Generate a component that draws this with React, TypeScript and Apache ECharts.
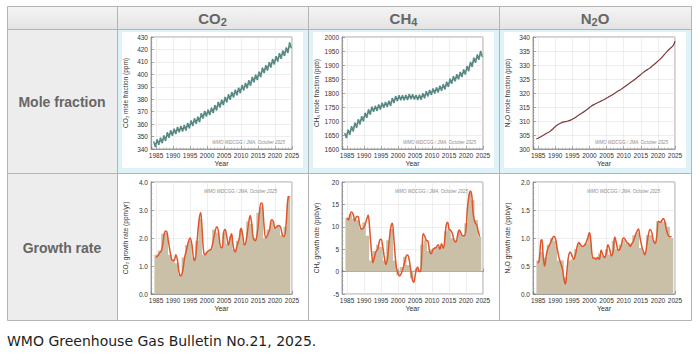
import React, { useEffect, useRef } from "react";
import * as echarts from "echarts";

// ---------- data ----------
const years = [1984, 1985, 1986, 1987, 1988, 1989, 1990, 1991, 1992, 1993, 1994, 1995, 1996, 1997, 1998, 1999, 2000, 2001, 2002, 2003, 2004, 2005, 2006, 2007, 2008, 2009, 2010, 2011, 2012, 2013, 2014, 2015, 2016, 2017, 2018, 2019, 2020, 2021, 2022, 2023, 2024];
const growthYears = [1985, 1986, 1987, 1988, 1989, 1990, 1991, 1992, 1993, 1994, 1995, 1996, 1997, 1998, 1999, 2000, 2001, 2002, 2003, 2004, 2005, 2006, 2007, 2008, 2009, 2010, 2011, 2012, 2013, 2014, 2015, 2016, 2017, 2018, 2019, 2020, 2021, 2022, 2023, 2024];

const gasHeaders = [["CO", "2", ""], ["CH", "4", ""], ["N", "2", "O"]];
const rowLabels = ["Mole fraction", "Growth rate"];
const caption = "WMO Greenhouse Gas Bulletin No.21, 2025.";
const watermark = "WMO WDCGG / JMA, October 2025";

// CO2 mole fraction (ppm): annual trend, seasonal high and low
const co2Trend = [343.8, 345.5, 346.8, 348.6, 351.2, 352.8, 354.1, 355.5, 356.3, 357.0, 358.7, 360.7, 362.4, 363.7, 366.6, 368.3, 369.4, 371.0, 373.1, 375.6, 377.4, 379.6, 381.7, 383.6, 385.4, 387.0, 389.2, 390.9, 393.0, 395.7, 397.5, 399.9, 403.1, 405.2, 407.6, 410.1, 412.4, 414.7, 416.9, 419.3, 423.1];
const co2High = [346.0, 347.7, 349.0, 350.8, 353.4, 355.0, 356.3, 357.7, 358.5, 359.2, 360.9, 362.9, 364.6, 365.9, 368.8, 370.5, 371.6, 373.2, 375.3, 377.8, 379.6, 381.8, 383.9, 385.8, 387.6, 389.2, 391.4, 393.1, 395.2, 397.9, 399.7, 402.1, 405.3, 407.4, 409.8, 412.3, 414.6, 416.9, 419.1, 421.5, 425.6];
const co2Low = [341.6, 343.4, 344.7, 346.5, 349.0, 350.7, 352.0, 353.4, 354.1, 354.9, 356.6, 358.5, 360.3, 361.6, 364.5, 366.2, 367.3, 368.9, 371.0, 373.4, 375.3, 377.5, 379.6, 381.5, 383.2, 384.9, 387.1, 388.8, 390.8, 393.6, 395.4, 397.8, 401.0, 403.0, 405.5, 408.0, 410.3, 412.5, 414.8, 417.2, 421.0];

// CH4 mole fraction (ppb)
const ch4Trend = [1648, 1660, 1672, 1685, 1697, 1708, 1720, 1732, 1742, 1745, 1750, 1756, 1759, 1763, 1773, 1780, 1783, 1783, 1784, 1787, 1786, 1784, 1785, 1790, 1797, 1802, 1807, 1811, 1817, 1822, 1831, 1842, 1851, 1858, 1866, 1875, 1887, 1902, 1917, 1928, 1938];
const ch4High = [1657, 1669, 1681, 1694, 1706, 1717, 1729, 1741, 1751, 1754, 1759, 1765, 1768, 1772, 1782, 1789, 1792, 1792, 1793, 1796, 1795, 1793, 1794, 1799, 1806, 1811, 1816, 1820, 1826, 1831, 1840, 1851, 1860, 1867, 1875, 1884, 1896, 1911, 1926, 1937, 1950];
const ch4Low = [1639, 1651, 1663, 1676, 1688, 1699, 1711, 1723, 1733, 1736, 1741, 1747, 1750, 1754, 1764, 1771, 1774, 1774, 1775, 1778, 1777, 1775, 1776, 1781, 1788, 1793, 1798, 1802, 1808, 1813, 1822, 1833, 1842, 1849, 1857, 1866, 1878, 1893, 1908, 1919, 1929];

// N2O mole fraction (ppb)
const n2oAnnual = [303.6, 304.2, 304.9, 305.6, 306.3, 307.4, 308.5, 309.2, 309.7, 309.9, 310.3, 311.0, 311.8, 312.6, 313.4, 314.3, 315.3, 316.0, 316.6, 317.2, 317.8, 318.5, 319.2, 320.0, 320.8, 321.5, 322.4, 323.3, 324.2, 325.1, 326.1, 327.1, 328.0, 328.8, 329.8, 330.8, 331.9, 333.2, 334.6, 335.8, 337.0];
const n2oLatest = [2025.0, 338.5];

// Annual growth rates (bars)
const co2GrowthAnnual = [1.4, 1.55, 2.15, 2.2, 1.4, 1.25, 1.1, 0.7, 1.3, 1.75, 1.9, 1.3, 1.9, 2.7, 1.4, 1.5, 1.6, 2.3, 2.2, 1.7, 2.2, 1.8, 2.05, 1.6, 1.9, 2.3, 1.8, 2.6, 2.5, 2.0, 2.9, 3.1, 2.0, 2.3, 2.6, 2.35, 2.45, 2.1, 2.4, 3.5];
const ch4GrowthAnnual = [12.0, 12.8, 11.8, 11.5, 9.6, 11.0, 8.0, 2.5, 4.6, 6.0, 5.5, 2.5, 7.0, 9.5, 2.5, -0.8, 1.0, 3.3, 1.5, -1.5, 0.3, 0.5, 6.0, 7.0, 4.6, 5.0, 5.5, 5.5, 5.6, 9.0, 9.5, 7.5, 7.0, 9.0, 8.0, 10.8, 17.5, 16.0, 11.5, 7.8];
const n2oGrowthAnnual = [0.6, 0.75, 0.65, 0.88, 1.0, 0.95, 0.6, 0.6, 0.3, 0.6, 0.62, 0.8, 0.9, 0.85, 0.9, 1.05, 0.65, 0.65, 0.72, 0.68, 0.8, 0.7, 0.95, 0.8, 0.88, 0.97, 0.9, 0.9, 1.05, 1.1, 0.82, 0.75, 1.05, 1.05, 0.95, 1.3, 1.3, 1.28, 1.2, 1.0];

// Smoothed growth-rate curves [year, value]
const co2GrowthCurve = [[1985.0, 1.3], [1986.0, 1.45], [1986.7, 1.6], [1987.5, 2.2], [1988.0, 2.25], [1988.6, 1.9], [1989.3, 1.4], [1989.8, 1.2], [1990.3, 1.2], [1990.8, 1.4], [1991.3, 1.2], [1991.8, 0.75], [1992.3, 0.65], [1992.8, 0.8], [1993.4, 1.3], [1994.0, 1.6], [1994.6, 1.9], [1995.0, 2.0], [1995.5, 1.8], [1996.0, 1.3], [1996.4, 1.2], [1997.0, 1.8], [1997.6, 2.6], [1998.1, 2.9], [1998.5, 2.4], [1999.0, 1.5], [1999.5, 1.4], [2000.0, 1.5], [2000.5, 1.55], [2001.2, 1.6], [2001.8, 1.9], [2002.5, 2.3], [2002.9, 2.4], [2003.4, 2.2], [2003.9, 1.7], [2004.4, 1.65], [2004.9, 2.2], [2005.3, 2.3], [2005.8, 2.05], [2006.3, 1.75], [2006.8, 2.0], [2007.2, 2.15], [2007.7, 1.7], [2008.3, 1.5], [2008.8, 1.7], [2009.5, 2.0], [2010.0, 2.35], [2010.5, 2.1], [2011.0, 1.75], [2011.5, 1.9], [2012.2, 2.5], [2012.7, 2.8], [2013.1, 2.55], [2013.6, 2.0], [2014.2, 1.9], [2014.8, 2.2], [2015.4, 2.9], [2015.9, 3.25], [2016.3, 3.2], [2016.8, 2.4], [2017.3, 2.0], [2017.8, 2.1], [2018.4, 2.3], [2019.0, 2.65], [2019.5, 2.6], [2020.0, 2.35], [2020.5, 2.4], [2021.0, 2.45], [2021.6, 2.4], [2022.2, 2.1], [2022.7, 2.05], [2023.2, 2.4], [2023.7, 3.3], [2024.1, 3.5]];
const ch4GrowthCurve = [[1985.0, 12.0], [1985.4, 11.5], [1985.9, 12.8], [1986.3, 13.3], [1986.8, 12.8], [1987.3, 11.3], [1987.8, 12.3], [1988.2, 12.3], [1988.7, 10.5], [1989.2, 9.5], [1989.7, 9.6], [1990.2, 10.3], [1990.7, 11.5], [1991.2, 12.6], [1991.5, 11.0], [1991.9, 7.0], [1992.3, 3.5], [1992.6, 2.0], [1993.0, 3.0], [1993.5, 4.5], [1994.0, 5.0], [1994.6, 7.0], [1995.0, 7.2], [1995.5, 5.5], [1996.0, 3.0], [1996.4, 1.6], [1996.9, 3.0], [1997.4, 7.0], [1997.9, 10.0], [1998.3, 10.8], [1998.7, 8.0], [1999.1, 4.0], [1999.5, 1.0], [2000.0, -0.5], [2000.4, -1.0], [2000.9, -0.5], [2001.4, 0.5], [2001.9, 2.0], [2002.4, 3.5], [2002.8, 3.7], [2003.3, 2.5], [2003.8, 0.0], [2004.3, -2.0], [2004.6, -2.4], [2005.0, -1.0], [2005.4, 0.5], [2005.8, 1.0], [2006.2, 0.0], [2006.6, 0.0], [2007.0, 4.0], [2007.4, 8.5], [2007.8, 8.0], [2008.3, 7.0], [2008.8, 6.8], [2009.3, 4.5], [2009.8, 4.0], [2010.3, 5.0], [2010.8, 5.2], [2011.3, 5.5], [2011.8, 6.0], [2012.3, 5.0], [2012.8, 6.2], [2013.3, 5.2], [2013.8, 7.5], [2014.2, 10.5], [2014.6, 11.0], [2015.0, 9.5], [2015.5, 9.2], [2016.0, 8.5], [2016.5, 7.0], [2017.0, 6.6], [2017.5, 8.0], [2018.0, 9.3], [2018.5, 8.7], [2019.0, 8.0], [2019.5, 8.0], [2020.0, 9.5], [2020.4, 14.0], [2020.9, 17.0], [2021.3, 18.0], [2021.7, 17.0], [2022.1, 13.0], [2022.6, 11.0], [2023.1, 10.5], [2023.6, 9.0], [2024.0, 7.8]];
const n2oGrowthCurve = [[1984.9, 0.55], [1985.3, 0.6], [1985.8, 0.95], [1986.1, 0.97], [1986.5, 0.65], [1986.9, 0.5], [1987.4, 0.7], [1987.9, 0.82], [1988.5, 0.9], [1989.0, 0.97], [1989.6, 1.03], [1990.1, 0.98], [1990.6, 0.8], [1991.1, 0.65], [1991.6, 0.55], [1992.1, 0.45], [1992.6, 0.25], [1993.0, 0.18], [1993.4, 0.4], [1993.9, 0.68], [1994.4, 0.75], [1994.9, 0.68], [1995.4, 0.62], [1995.9, 0.7], [1996.4, 0.85], [1996.9, 0.92], [1997.4, 0.88], [1997.9, 0.85], [1998.4, 0.86], [1998.9, 0.9], [1999.5, 1.0], [2000.0, 1.1], [2000.4, 0.95], [2000.9, 0.65], [2001.4, 0.64], [2001.9, 0.62], [2002.4, 0.65], [2002.9, 0.62], [2003.4, 0.78], [2003.9, 0.7], [2004.4, 0.65], [2004.9, 0.72], [2005.4, 0.88], [2005.9, 0.8], [2006.4, 0.68], [2006.9, 0.75], [2007.4, 1.02], [2007.9, 0.9], [2008.4, 0.78], [2008.9, 0.8], [2009.4, 0.9], [2009.9, 1.0], [2010.4, 0.98], [2010.9, 0.92], [2011.4, 0.9], [2011.9, 0.85], [2012.4, 0.9], [2012.9, 0.95], [2013.4, 1.05], [2013.9, 1.12], [2014.3, 1.16], [2014.8, 1.0], [2015.3, 0.85], [2015.8, 0.75], [2016.2, 0.7], [2016.7, 0.85], [2017.2, 1.05], [2017.7, 1.15], [2018.2, 1.1], [2018.7, 0.95], [2019.2, 0.9], [2019.7, 1.05], [2020.2, 1.3], [2020.7, 1.28], [2021.2, 1.32], [2021.6, 1.35], [2022.0, 1.3], [2022.5, 1.15], [2023.0, 1.05], [2023.5, 1.02], [2024.0, 1.03]];

// ---------- layout ----------
const COLS = [7, 117, 308, 499, 691];
const ROWS = [6, 29, 173, 320];
const X_MIN = 1983.5;
const X_MAX = 2025;

const FONT = "Liberation Sans, Arial, sans-serif";

type Spec = { c: number; r: number; yMin: number; yMax: number; yInt: number; name: string; dec: number };
const specs: Spec[] = [
  { c: 1, r: 0, yMin: 340, yMax: 430, yInt: 10, name: "CO₂ mole fraction (ppm)", dec: 0 },
  { c: 2, r: 0, yMin: 1600, yMax: 2000, yInt: 50, name: "CH₄ mole fraction (ppb)", dec: 0 },
  { c: 3, r: 0, yMin: 300, yMax: 340, yInt: 5, name: "N₂O mole fraction (ppb)", dec: 0 },
  { c: 1, r: 1, yMin: 0, yMax: 4, yInt: 1, name: "CO₂ growth rate (ppm/yr)", dec: 1 },
  { c: 2, r: 1, yMin: -5, yMax: 20, yInt: 5, name: "CH₄ growth rate (ppb/yr)", dec: 0 },
  { c: 3, r: 1, yMin: 0, yMax: 2, yInt: 0.5, name: "N₂O growth rate (ppb/yr)", dec: 1 },
];

function gridRect(s: Spec) {
  const left = COLS[s.c] + 34;
  const width = COLS[s.c + 1] - COLS[s.c] - 50;
  const top = s.r === 0 ? 37 : 182;
  const height = 112;
  return { left, width, top, height };
}

function zigzag(hi: number[], lo: number[]) {
  const out: number[][] = [];
  years.forEach((y, i) => {
    out.push([y + 0.3, hi[i]]);
    out.push([y + 0.8, lo[i]]);
  });
  return out;
}

function steps(vals: number[]) {
  const out: number[][] = growthYears.map((y, i) => [y - 0.5, vals[i]]);
  out.push([growthYears[growthYears.length - 1] + 0.5, vals[vals.length - 1]]);
  return out;
}

function buildOption() {
  const grid: any[] = [];
  const xAxis: any[] = [];
  const yAxis: any[] = [];
  const series: any[] = [];
  const graphic: any[] = [];

  // table backgrounds
  const tableW = COLS[4] - COLS[0];
  graphic.push({
    type: "rect", z: -20, silent: true,
    shape: { x: COLS[0], y: ROWS[0], width: tableW, height: ROWS[1] - ROWS[0] },
    style: { fill: new echarts.graphic.LinearGradient(0, 0, 0, 1, [{ offset: 0, color: "#f5f5f5" }, { offset: 1, color: "#e4e4e4" }]) },
  });
  graphic.push({
    type: "rect", z: -20, silent: true,
    shape: { x: COLS[0], y: ROWS[1], width: COLS[1] - COLS[0], height: ROWS[3] - ROWS[1] },
    style: { fill: "#ededed" },
  });
  for (let c = 1; c <= 3; c++) {
    const x0 = COLS[c];
    const w = COLS[c + 1] - COLS[c];
    graphic.push({
      type: "rect", z: -20, silent: true,
      shape: { x: x0, y: ROWS[1], width: w, height: ROWS[2] - ROWS[1] },
      style: { fill: "#dff2f8" },
    });
    graphic.push({
      type: "rect", z: -19, silent: true,
      shape: { x: x0 + 5, y: ROWS[1] + 3, width: w - 10, height: ROWS[2] - ROWS[1] - 8 },
      style: { fill: "#ffffff" },
    });
    graphic.push({
      type: "rect", z: -20, silent: true,
      shape: { x: x0, y: ROWS[2], width: w, height: ROWS[3] - ROWS[2] },
      style: { fill: "#ffffff" },
    });
  }
  // borders
  const bc = "#b4b4b4";
  graphic.push({
    type: "rect", z: -5, silent: true,
    shape: { x: COLS[0] + 0.5, y: ROWS[0] + 0.5, width: tableW, height: ROWS[3] - ROWS[0] },
    style: { fill: "none", stroke: bc, lineWidth: 1 },
  });
  for (let c = 1; c <= 3; c++) {
    graphic.push({
      type: "line", z: -5, silent: true,
      shape: { x1: COLS[c] + 0.5, y1: ROWS[0], x2: COLS[c] + 0.5, y2: ROWS[3] },
      style: { stroke: bc, lineWidth: 1 },
    });
  }
  for (let r = 1; r <= 2; r++) {
    graphic.push({
      type: "line", z: -5, silent: true,
      shape: { x1: COLS[0], y1: ROWS[r] + 0.5, x2: COLS[4], y2: ROWS[r] + 0.5 },
      style: { stroke: bc, lineWidth: 1 },
    });
  }
  // header texts
  gasHeaders.forEach((h, i) => {
    const cx = (COLS[i + 1] + COLS[i + 2]) / 2;
    graphic.push({
      type: "text", z: 50, silent: true,
      x: cx, y: (ROWS[0] + ROWS[1]) / 2 + 1,
      style: {
        text: `{a|${h[0]}}{b|${h[1]}}` + (h[2] ? `{a|${h[2]}}` : ""),
        align: "center", verticalAlign: "middle",
        rich: {
          a: { fontFamily: FONT, fontWeight: "bold", fontSize: 15, fill: "#666", lineHeight: 18 },
          b: { fontFamily: FONT, fontWeight: "bold", fontSize: 11, fill: "#666", lineHeight: 18, verticalAlign: "bottom" },
        },
      },
    });
  });
  rowLabels.forEach((t, r) => {
    graphic.push({
      type: "text", z: 50, silent: true,
      x: (COLS[0] + COLS[1]) / 2, y: (ROWS[r + 1] + ROWS[r + 2]) / 2 + 1,
      style: { text: t, align: "center", verticalAlign: "middle", fontFamily: FONT, fontWeight: "bold", fontSize: 14, fill: "#666" },
    });
  });
  graphic.push({
    type: "text", z: 50, silent: true,
    x: COLS[0], y: 341,
    style: { text: caption, align: "left", verticalAlign: "middle", fontFamily: "DejaVu Sans", fontSize: 14, fill: "#1e1e1e" },
  });

  specs.forEach((s, gi) => {
    const g = gridRect(s);
    grid.push({ ...g, show: true, borderColor: "#8a8a8a", borderWidth: 0.8, backgroundColor: "transparent" });
    xAxis.push({
      type: "value", gridIndex: gi, min: X_MIN, max: X_MAX, splitNumber: 8,
      axisLine: { show: true, lineStyle: { color: "#8a8a8a", width: 0.8 } },
      axisTick: { show: true, inside: true, length: 3, lineStyle: { color: "#777", width: 0.6 } },
      minorTick: { show: true, splitNumber: 5, length: 1.5, lineStyle: { color: "#999", width: 0.5 } },
      axisLabel: { fontSize: 6.5, color: "#333", margin: 3, showMinLabel: false, fontFamily: FONT, formatter: (v: number) => String(Math.round(v)) },
      splitLine: { show: true, lineStyle: { color: "#e3e3e3", width: 0.6 } },
      name: "Year", nameLocation: "middle", nameGap: 11,
      nameTextStyle: { fontSize: 7, color: "#333", fontFamily: FONT },
    });
    yAxis.push({
      type: "value", gridIndex: gi, min: s.yMin, max: s.yMax, interval: s.yInt,
      axisLine: { show: true, lineStyle: { color: "#8a8a8a", width: 0.8 } },
      axisTick: { show: true, inside: true, length: 3, lineStyle: { color: "#777", width: 0.6 } },
      minorTick: { show: true, splitNumber: 5, length: 1.5, lineStyle: { color: "#999", width: 0.5 } },
      axisLabel: { fontSize: 6.5, color: "#333", margin: 3, fontFamily: FONT, formatter: (v: number) => v.toFixed(s.dec) },
      splitLine: { show: true, lineStyle: { color: "#e3e3e3", width: 0.6 } },
      name: s.name, nameLocation: "middle", nameGap: 22,
      nameTextStyle: { fontSize: 6.5, color: "#333", fontFamily: FONT },
    });
    // watermark
    graphic.push({
      type: "text", z: 50, silent: true,
      x: s.r === 0 ? g.left + g.width - 7 : g.left + g.width - 15,
      y: s.r === 0 ? g.top + g.height - 7 : g.top + 9,
      style: { text: watermark, align: "right", verticalAlign: "middle", fontFamily: FONT, fontStyle: "italic", fontSize: 4.5, fill: "#8c8c8c" },
    });
  });

  const base = { type: "line", symbol: "none", silent: true, z: 3 };
  const teal = "#7cb9b1";
  const dark = "#3f5050";
  // CO2 mole fraction
  series.push({ ...base, xAxisIndex: 0, yAxisIndex: 0, data: zigzag(co2High, co2Low), lineStyle: { color: teal, width: 1.8 } });
  series.push({ ...base, xAxisIndex: 0, yAxisIndex: 0, data: zigzag(co2High, co2Low), lineStyle: { color: dark, width: 0.45 } });
  series.push({ ...base, xAxisIndex: 0, yAxisIndex: 0, data: years.map((y, i) => [y + 0.5, co2Trend[i]]), lineStyle: { color: dark, width: 0.5 } });
  // CH4 mole fraction
  series.push({ ...base, xAxisIndex: 1, yAxisIndex: 1, data: zigzag(ch4High, ch4Low), lineStyle: { color: teal, width: 1.8 } });
  series.push({ ...base, xAxisIndex: 1, yAxisIndex: 1, data: zigzag(ch4High, ch4Low), lineStyle: { color: dark, width: 0.45 } });
  series.push({ ...base, xAxisIndex: 1, yAxisIndex: 1, data: years.map((y, i) => [y + 0.5, ch4Trend[i]]), lineStyle: { color: dark, width: 0.5 } });
  // N2O mole fraction
  series.push({ ...base, xAxisIndex: 2, yAxisIndex: 2, smooth: 0.3, data: [...years.map((y, i) => [y + 0.5, n2oAnnual[i]]), n2oLatest], lineStyle: { color: "#7a3a3a", width: 1.2 } });

  // growth rates
  const growth = [
    [co2GrowthAnnual, co2GrowthCurve],
    [ch4GrowthAnnual, ch4GrowthCurve],
    [n2oGrowthAnnual, n2oGrowthCurve],
  ] as const;
  growth.forEach(([ann, curve], k) => {
    const gi = 3 + k;
    series.push({ ...base, z: 2, xAxisIndex: gi, yAxisIndex: gi, step: "end", data: steps(ann as number[]), lineStyle: { width: 0, color: "#c9c0a7" }, areaStyle: { color: "#c9c0a7", opacity: 1, origin: 0 } });
    series.push({ ...base, xAxisIndex: gi, yAxisIndex: gi, smooth: 0.4, data: curve, lineStyle: { color: "#e0562c", width: 1.5 } });
  });

  return {
    animation: false,
    backgroundColor: "#ffffff",
    grid, xAxis, yAxis, series,
    graphic: { elements: graphic },
  };
}

export default function App() {
  const ref = useRef<HTMLDivElement>(null);
  useEffect(() => {
    if (!ref.current) return;
    const chart = echarts.init(ref.current, undefined, { renderer: "svg" });
    chart.setOption(buildOption() as any);
    return () => chart.dispose();
  }, []);
  return <div ref={ref} style={{ position: "fixed", left: 0, top: 0, width: 700, height: 362 }} />;
}
